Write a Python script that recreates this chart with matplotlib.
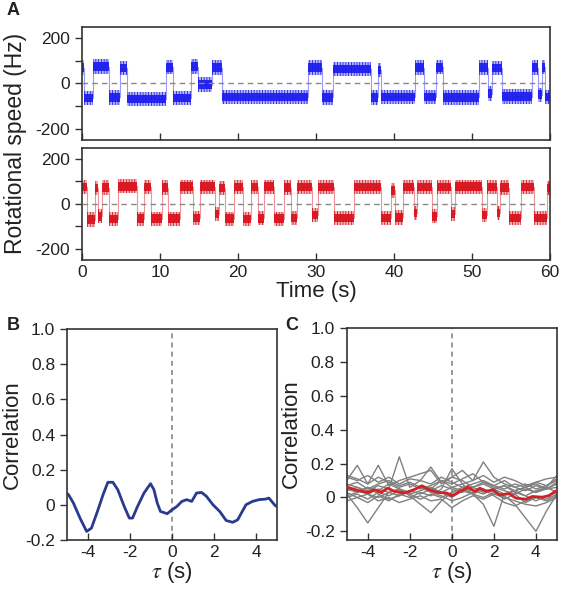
import numpy as np
import matplotlib
matplotlib.use("Agg")
import matplotlib.pyplot as plt

plt.rcParams['font.family'] = ['Liberation Sans', 'DejaVu Sans']
plt.rcParams['mathtext.fontset'] = 'stix'
plt.rcParams['axes.unicode_minus'] = False
plt.rcParams['hatch.linewidth'] = 0.6

# ---- panel A: switching traces (segment start times, levels in Hz) ----
blue_t = [0, 0.3, 1.4, 3.5, 4.8, 5.7, 10.8, 11.7, 14.0, 14.9, 16.6, 17.9, 28.9,
          30.8, 32.1, 37.0, 37.9, 38.3, 42.7, 43.8, 45.3, 46.3, 50.9, 52.0, 52.5,
          53.8, 57.7, 58.5, 58.9, 59.3, 60]
blue_level = [70, -65, 75, -62, 68, -68, 72, -64, 75, -5, 70, -60, 70,
              -62, 65, -62, 60, -60, 70, -60, 72, -62, 70, -45, 68,
              -58, 70, -50, 72, -60]

red_t = [0, 0.6, 1.7, 2.0, 2.5, 3.5, 4.6, 7.0, 8.0, 8.9, 10.2, 11.0, 12.5, 14.2,
         15.1, 17.0, 17.6, 18.3, 19.5, 20.6, 21.6, 22.5, 23.3, 24.6, 25.9, 26.8,
         27.6, 29.5, 30.2, 32.3, 34.9, 38.3, 39.6, 40.1, 41.1, 42.5, 42.9, 44.8,
         45.5, 47.3, 47.8, 51.2, 51.9, 53.2, 53.6, 54.7, 56.2, 57.9, 59.6, 60]
red_level = [75, -70, 70, -55, 72, -68, 78, -66, 74, -66, 72, -66, 76, -62,
             76, -45, 70, -66, 74, -68, 74, -64, 76, -66, 72, -62,
             74, -50, 74, -62, 74, -62, 60, -60, 74, -40, 74, -55,
             74, -45, 76, -50, 74, -40, 72, -62, 74, -62, 70]

# ---- panel B: cross-correlation ----
tau_b = [-5, -4.92, -4.69, -4.375, -4.06, -3.83, -3.52, -3.28, -3.05, -2.81, -2.58,
         -2.27, -2.03, -1.875, -1.64, -1.33, -1.02, -0.86, -0.70, -0.55, -0.23, 0,
         0.23, 0.47, 0.70, 0.94, 1.17, 1.41, 1.64, 1.95, 2.27, 2.58, 2.89, 3.125,
         3.52, 3.83, 4.14, 4.45, 4.61, 4.92, 5]
corr_b = [0.065, 0.057, 0.01, -0.076, -0.152, -0.133, -0.029, 0.057, 0.128, 0.128, 0.086,
          -0.01, -0.076, -0.076, -0.01, 0.067, 0.12, 0.086, 0.01, -0.038, -0.051, -0.029,
          -0.01, 0.019, 0.029, 0.019, 0.067, 0.07, 0.048, 0.0, -0.038, -0.09, -0.10, -0.086,
          0.0, 0.019, 0.029, 0.032, 0.038, -0.006, -0.01]

# ---- panel C: individual correlations (gray) and mean (red) ----
tau_grid = [-5, -4.5, -4, -3.5, -3, -2.5, -2, -1.5, -1, -0.5, 0,
            0.5, 1, 1.5, 2, 2.5, 3, 3.5, 4, 4.5, 5]
gray_curves = [
    [0.02, -0.06, -0.15, -0.06, 0.03, 0.05, 0.02, 0.04, 0.06, 0.03, 0.00, 0.04, 0.06, 0.03, 0.05, 0.02, 0.04, 0.06, 0.03, 0.05, 0.06],
    [0.08, 0.06, 0.04, 0.07, 0.05, 0.24, 0.06, 0.10, 0.08, 0.12, 0.09, 0.06, 0.08, 0.10, 0.07, 0.05, 0.08, 0.06, 0.09, 0.07, 0.10],
    [0.10, 0.19, 0.08, 0.19, 0.07, 0.10, 0.12, 0.14, 0.16, 0.08, 0.12, 0.10, 0.06, 0.08, 0.05, 0.07, 0.04, 0.06, 0.08, 0.05, 0.09],
    [0.05, 0.03, 0.06, 0.04, 0.08, 0.05, 0.03, 0.07, 0.05, 0.10, 0.06, 0.08, 0.10, 0.21, 0.12, 0.08, 0.06, 0.04, 0.07, 0.05, 0.08],
    [0.00, 0.02, -0.01, 0.03, 0.01, 0.04, 0.02, -0.01, 0.02, 0.00, 0.03, 0.05, 0.02, -0.04, -0.17, 0.02, 0.04, 0.01, -0.02, 0.01, 0.03],
    [0.04, 0.06, 0.02, 0.05, 0.03, 0.01, 0.04, 0.02, 0.05, 0.03, 0.06, 0.04, 0.02, 0.05, 0.03, 0.01, -0.04, -0.12, -0.20, -0.08, 0.02],
    [0.06, 0.04, 0.02, 0.00, 0.03, 0.05, 0.01, -0.04, -0.09, -0.02, 0.03, 0.06, 0.04, 0.02, 0.05, 0.07, 0.03, 0.01, 0.04, 0.06, 0.03],
    [0.12, 0.10, 0.13, 0.09, 0.12, 0.08, 0.11, 0.10, 0.18, 0.09, 0.12, 0.16, 0.10, 0.13, 0.09, 0.12, 0.10, 0.07, 0.09, 0.11, 0.12],
    [-0.02, 0.00, -0.03, 0.01, -0.02, 0.02, 0.00, 0.03, 0.01, 0.05, 0.17, 0.08, 0.02, 0.00, 0.03, -0.01, 0.02, -0.03, 0.00, -0.02, 0.01],
    [0.03, 0.00, 0.02, -0.02, 0.00, -0.03, -0.01, 0.01, -0.02, -0.01, -0.06, -0.02, 0.01, -0.01, 0.02, 0.00, -0.02, -0.04, -0.05, -0.03, 0.00],
    [0.07, 0.09, 0.05, 0.08, 0.10, 0.07, 0.09, 0.06, 0.04, 0.07, 0.05, 0.03, 0.06, 0.09, 0.07, 0.10, 0.06, 0.08, 0.05, 0.07, 0.11],
    [0.13, 0.11, 0.08, 0.12, 0.09, 0.06, 0.08, 0.05, 0.07, 0.10, 0.08, 0.11, 0.14, 0.09, 0.06, 0.04, 0.02, 0.05, 0.03, 0.06, 0.13],
    [0.01, 0.03, 0.06, 0.02, -0.01, 0.01, 0.04, 0.06, 0.03, 0.01, -0.02, 0.00, 0.03, 0.05, 0.01, -0.03, -0.05, -0.02, 0.00, -0.01, 0.02],
]
tau_mean = [-5, -4.92, -4.45, -3.98, -3.67, -3.36, -3.05, -2.73, -2.27, -1.8, -1.41, -1.09,
            -0.70, -0.23, 0, 0.31, 0.78, 1.09, 1.33, 1.64, 1.95, 2.27, 2.73, 3.05,
            3.52, 3.83, 4.3, 4.61, 4.92, 5]
corr_mean = [0.06, 0.059, 0.04, 0.03, 0.046, 0.03, 0.055, 0.036, 0.026, 0.046, 0.069, 0.046,
             0.03, 0.026, 0.01, 0.03, 0.061, 0.036, 0.055, 0.036, 0.046, 0.016, 0.022, -0.004,
             -0.01, 0.006, 0.002, 0.01, 0.036, 0.04]

TXT = '#222222'
SPINE = '#333333'
BLUE = '#1f1fee'
RED = '#d9151f'

fig = plt.figure(figsize=(5.62, 5.90), dpi=100)


def style(ax):
    for s in ax.spines.values():
        s.set_linewidth(1.2)
        s.set_color(SPINE)
    ax.tick_params(axis='x', direction='in', length=5, width=1.0, colors=SPINE,
                   labelcolor=TXT, labelsize=12.5, top=False)
    ax.tick_params(axis='y', which='both', direction='out', length=5, width=1.0,
                   colors=SPINE, labelcolor=TXT, labelsize=12.5, right=False)


def trace(ax, t, level, color, light):
    y = np.array(list(level) + [level[-1]], dtype=float)
    # fuzzy outer part of the noisy band, drawn as fine vertical hatching
    ax.fill_between(t, y - 32, y + 32, step='post', facecolor=light,
                    edgecolor=color, hatch='||||||', lw=0)
    ax.fill_between(t, y - 19, y + 19, step='post', color=color, alpha=0.95, lw=0)
    ax.step(t, y, where='post', color=color, lw=0.8, alpha=0.45)
    ax.axhline(0, color='#888888', ls=(0, (4, 3)), lw=1.0, zorder=3)
    ax.set_xlim(0, 60)
    ax.set_ylim(-250, 250)
    ax.set_yticks([-200, 0, 200])
    ax.set_yticks([-100, 100], minor=True)
    ax.set_xticks(range(0, 61, 10))
    style(ax)


axA1 = fig.add_axes([0.146, 0.763, 0.833, 0.191])
trace(axA1, blue_t, blue_level, BLUE, '#b8b8f8')
axA1.set_xticklabels([])

axA2 = fig.add_axes([0.146, 0.559, 0.833, 0.191])
trace(axA2, red_t, red_level, RED, '#f2b8bb')
axA2.set_xlabel('Time (s)', fontsize=16, color=TXT, labelpad=1)

fig.text(0.027, 0.757, 'Rotational speed (Hz)', rotation=90, ha='center',
         va='center', fontsize=16.5, color=TXT)

ytick_vals = [-0.2, 0, 0.2, 0.4, 0.6, 0.8, 1.0]
ytick_labs = ['-0.2', '0', '0.2', '0.4', '0.6', '0.8', '1.0']


def corr_axes(ax, ylo):
    ax.axvline(0, color='#888888', ls=(0, (3, 2.5)), lw=1.2, zorder=1)
    ax.set_xlim(-5, 5)
    ax.set_ylim(ylo, 1.0)
    ax.set_xticks([-4, -2, 0, 2, 4])
    ax.set_xticklabels(['-4', '-2', '0', '2', '4'])
    ax.set_yticks(ytick_vals)
    ax.set_yticklabels(ytick_labs)
    ax.set_xlabel(r'$\tau$ (s)', fontsize=16, color=TXT, labelpad=0)
    ax.set_ylabel('Correlation', fontsize=16, color=TXT, labelpad=2)
    style(ax)


axB = fig.add_axes([0.119, 0.085, 0.374, 0.357])
axB.plot(tau_b, corr_b, color='#2a3a8f', lw=2.0, zorder=3)
corr_axes(axB, -0.2)

axC = fig.add_axes([0.617, 0.085, 0.374, 0.359])
for g in gray_curves:
    axC.plot(tau_grid, g, color='#808080', lw=1.0, zorder=2)
axC.plot(tau_mean, corr_mean, color='#d42020', lw=2.0, zorder=4)
corr_axes(axC, -0.25)

fig.text(0.012, 0.982, 'A', fontsize=13, fontweight='bold', color=TXT, va='center')
fig.text(0.012, 0.449, 'B', fontsize=13, fontweight='bold', color=TXT, va='center')
fig.text(0.507, 0.449, 'C', fontsize=13, fontweight='bold', color=TXT, va='center')

fig.savefig('out.png', dpi=100)
